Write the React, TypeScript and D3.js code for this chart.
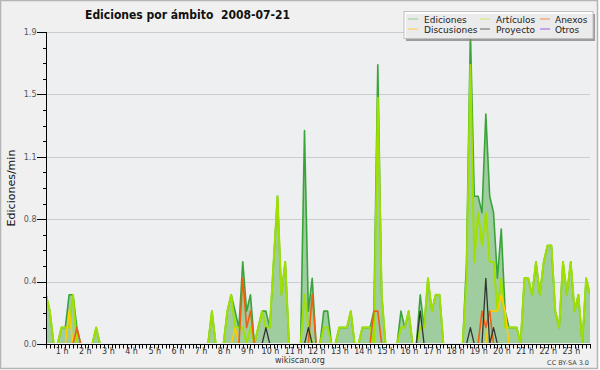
import React from 'react';
import * as d3 from 'd3';

// 10-minute bins, 142 points (00:00 → 23:30), values in edits/min
const ediciones = [
  0.3, 0.2, 0, 0, 0.1, 0.1,
  0.3, 0.3, 0.1, 0, 0, 0,
  0, 0.1, 0, 0, 0, 0,
  0, 0, 0, 0, 0, 0,
  0, 0, 0, 0, 0, 0,
  0, 0, 0, 0, 0, 0,
  0, 0, 0, 0, 0, 0,
  0, 0.2, 0, 0, 0, 0.2,
  0.3, 0.2, 0.1, 0.5, 0.2, 0.3,
  0, 0.1, 0.2, 0.2, 0.1, 0.5,
  0.9, 0.3, 0.5, 0, 0, 0,
  0, 1.3, 0.2, 0.4, 0, 0,
  0.2, 0.2, 0, 0, 0.1, 0.1,
  0.1, 0.2, 0, 0, 0.1, 0.1,
  0.1, 0.2, 1.7, 0.3, 0, 0,
  0, 0, 0.2, 0.1, 0.2, 0,
  0, 0.3, 0.1, 0.4, 0.2, 0.3,
  0.3, 0, 0, 0, 0, 0,
  0, 0.5, 1.9, 0.9, 0.9, 0.8,
  1.4, 0.9, 0.8, 0.4, 0.7, 0.2,
  0.1, 0.1, 0.1, 0, 0.4, 0.4,
  0.3, 0.5, 0.3, 0.5, 0.6, 0.6,
  0.2, 0.1, 0.5, 0.3, 0.5, 0.2,
  0.3, 0, 0.4, 0.3,
];

const articulos = [
  0.3, 0.2, 0, 0, 0.1, 0.1,
  0.1, 0.3, 0, 0, 0, 0,
  0, 0.1, 0, 0, 0, 0,
  0, 0, 0, 0, 0, 0,
  0, 0, 0, 0, 0, 0,
  0, 0, 0, 0, 0, 0,
  0, 0, 0, 0, 0, 0,
  0, 0.2, 0, 0, 0, 0.2,
  0.3, 0.1, 0.1, 0.1, 0, 0.1,
  0, 0.1, 0.2, 0.1, 0.1, 0.5,
  0.9, 0.3, 0.5, 0, 0, 0,
  0, 0.3, 0.1, 0, 0, 0,
  0.1, 0.1, 0, 0, 0.1, 0.1,
  0.1, 0.2, 0, 0, 0.1, 0.1,
  0.1, 0, 1.5, 0.3, 0, 0,
  0, 0, 0.1, 0.1, 0.2, 0,
  0, 0.1, 0.1, 0.4, 0.2, 0.3,
  0.3, 0, 0, 0, 0, 0,
  0, 0.4, 1.7, 0.5, 0.8, 0.6,
  0.8, 0.5, 0.5, 0.2, 0.4, 0.1,
  0.1, 0.1, 0.1, 0, 0.4, 0.4,
  0.3, 0.5, 0.3, 0.5, 0.6, 0.6,
  0.2, 0.1, 0.5, 0.3, 0.5, 0.2,
  0.3, 0, 0.4, 0.3,
];

const anexos = [
  0, 0, 0, 0, 0, 0,
  0, 0, 0.1, 0, 0, 0,
  0, 0, 0, 0, 0, 0,
  0, 0, 0, 0, 0, 0,
  0, 0, 0, 0, 0, 0,
  0, 0, 0, 0, 0, 0,
  0, 0, 0, 0, 0, 0,
  0, 0, 0, 0, 0, 0,
  0, 0, 0, 0.4, 0.1, 0.2,
  0, 0, 0, 0, 0, 0,
  0, 0, 0, 0, 0, 0,
  0, 0, 0, 0.3, 0, 0,
  0, 0, 0, 0, 0, 0,
  0, 0, 0, 0, 0, 0,
  0, 0.2, 0.2, 0, 0, 0,
  0, 0, 0, 0, 0, 0,
  0, 0, 0, 0, 0, 0,
  0, 0, 0, 0, 0, 0,
  0, 0, 0, 0, 0, 0.2,
  0.1, 0.2, 0, 0, 0, 0,
  0, 0, 0, 0, 0, 0,
  0, 0, 0, 0, 0, 0,
  0, 0, 0, 0, 0, 0,
  0, 0, 0, 0,
];

const discusiones = [
  0, 0, 0, 0, 0, 0,
  0.2, 0, 0, 0, 0, 0,
  0, 0, 0, 0, 0, 0,
  0, 0, 0, 0, 0, 0,
  0, 0, 0, 0, 0, 0,
  0, 0, 0, 0, 0, 0,
  0, 0, 0, 0, 0, 0,
  0, 0, 0, 0, 0, 0,
  0, 0.1, 0, 0, 0, 0,
  0, 0, 0, 0, 0, 0,
  0, 0, 0, 0, 0, 0,
  0, 0, 0, 0, 0, 0,
  0, 0, 0, 0, 0, 0,
  0, 0, 0, 0, 0, 0,
  0, 0, 0, 0, 0, 0,
  0, 0, 0, 0, 0, 0,
  0, 0, 0, 0, 0, 0,
  0, 0, 0, 0, 0, 0,
  0, 0, 0, 0, 0, 0,
  0, 0.2, 0.2, 0.2, 0.3, 0.2,
  0, 0, 0, 0, 0, 0,
  0, 0, 0, 0, 0, 0,
  0, 0, 0, 0, 0, 0,
  0, 0, 0, 0,
];

const proyecto = [
  0, 0, 0, 0, 0, 0,
  0, 0, 0, 0, 0, 0,
  0, 0, 0, 0, 0, 0,
  0, 0, 0, 0, 0, 0,
  0, 0, 0, 0, 0, 0,
  0, 0, 0, 0, 0, 0,
  0, 0, 0, 0, 0, 0,
  0, 0, 0, 0, 0, 0,
  0, 0, 0, 0, 0, 0,
  0, 0, 0, 0.1, 0, 0,
  0, 0, 0, 0, 0, 0,
  0, 0, 0.1, 0, 0, 0,
  0, 0, 0, 0, 0, 0,
  0, 0, 0, 0, 0, 0,
  0, 0, 0, 0, 0, 0,
  0, 0, 0, 0, 0, 0,
  0, 0.2, 0, 0, 0, 0,
  0, 0, 0, 0, 0, 0,
  0, 0, 0.1, 0, 0, 0,
  0.4, 0, 0.1, 0, 0, 0,
  0, 0, 0, 0, 0, 0,
  0, 0, 0, 0, 0, 0,
  0, 0, 0, 0, 0, 0,
  0, 0, 0, 0,
];

const otros = [
  0, 0, 0, 0, 0, 0, 0, 0, 0, 0, 0, 0, 0, 0, 0, 0, 0, 0, 0, 0, 0, 0, 0, 0,
  0, 0, 0, 0, 0, 0, 0, 0, 0, 0, 0, 0, 0, 0, 0, 0, 0, 0, 0, 0, 0, 0, 0, 0,
  0, 0, 0, 0, 0, 0, 0, 0, 0, 0, 0, 0, 0, 0, 0, 0, 0, 0, 0, 0, 0, 0, 0, 0,
  0, 0, 0, 0, 0, 0, 0, 0, 0, 0, 0, 0, 0, 0, 0, 0, 0, 0, 0, 0, 0, 0, 0, 0,
  0, 0, 0, 0, 0, 0, 0, 0, 0, 0, 0, 0, 0, 0, 0, 0, 0, 0, 0, 0, 0, 0, 0, 0,
  0, 0, 0, 0, 0, 0, 0, 0, 0, 0, 0, 0, 0, 0, 0, 0, 0, 0, 0, 0, 0, 0,
];

const hourLabels = [
  '1 h', '2 h', '3 h', '4 h', '5 h', '6 h', '7 h', '8 h', '9 h', '10 h', '11 h', '12 h',
  '13 h', '14 h', '15 h', '16 h', '17 h', '18 h', '19 h', '20 h', '21 h', '22 h', '23 h',
];
const yTickValues = [0, 0.38, 0.76, 1.14, 1.52, 1.9];
const yTickLabels = ['0.0', '0.4', '0.8', '1.1', '1.5', '1.9'];

const legendLabels = ['Ediciones', 'Artículos', 'Anexos', 'Discusiones', 'Proyecto', 'Otros'];
const legendColors = ['#8fcf8f', '#c8ec60', '#ee8a5a', '#ffcc44', '#666666', '#9a5ce8'];

const titleText = 'Ediciones por ámbito';
const dateText = '2008-07-21';

const X0 = 46, X1 = 590, Y0 = 344, Y1 = 32;
const BINS_PER_HOUR = 6;

export default function App() {
  const n = ediciones.length;
  const x = d3.scaleLinear().domain([0, n - 1]).range([X0, X1]);
  const y = d3.scaleLinear().domain([0, 1.9]).range([Y0, Y1]);

  const area = d3.area<number>().x((_, i) => x(i)).y0(y(0)).y1((d) => y(d));
  const line = d3.line<number>().x((_, i) => x(i)).y((d) => y(d));

  const minorY = d3.range(0, 21).map((k) => k * 0.095);
  const font = 'DejaVu Sans, Verdana, sans-serif';

  const lines = [
    { data: articulos, color: '#9fe000', w: 2 },
    { data: discusiones, color: '#ffcc00', w: 1.6 },
    { data: anexos, color: '#f06010', w: 1.6 },
    { data: proyecto, color: '#333333', w: 1.3 },
    { data: otros, color: '#8a3ee0', w: 1.3 },
  ];

  const legX = [408, 480, 540];
  const legTextX = [424, 496, 555];
  const legY = [19.5, 29.5];

  return (
    <svg width={600} height={370} style={{ position: 'absolute', left: 0, top: 0 }} fontFamily={font}>
      <defs>
        <clipPath id="plotclip">
          <rect x={X0} y={Y1} width={X1 - X0} height={Y0 - Y1 - 1} />
        </clipPath>
      </defs>
      <rect x={0.5} y={0.5} width={597} height={368} fill="#f0f0f0" stroke="#b4b4b4" strokeWidth={1.5} />
      <rect x={X0} y={Y1} width={X1 - X0} height={Y0 - Y1} fill="#eeeff1" />
      {yTickValues.slice(1).map((v) => (
        <line key={'g' + v} x1={X0} x2={X1} y1={Math.round(y(v)) + 0.5} y2={Math.round(y(v)) + 0.5} stroke="#cccccc" strokeWidth={1} />
      ))}
      <g clipPath="url(#plotclip)">
        <path d={area(ediciones) || ''} fill="#a0cda0" />
        <path d={line(ediciones) || ''} fill="none" stroke="#3aa43a" strokeWidth={1.6} strokeLinejoin="round" />
        {lines.map((l, k) => (
          <path key={k} d={line(l.data) || ''} fill="none" stroke={l.color} strokeWidth={l.w} strokeLinejoin="round" />
        ))}
      </g>
      {/* axes */}
      <line x1={X0 + 0.5} x2={X0 + 0.5} y1={Y1} y2={Y0} stroke="#000" strokeWidth={1} />
      <line x1={X0} x2={X1} y1={Y0 + 0.5} y2={Y0 + 0.5} stroke="#000" strokeWidth={1} />
      {minorY.map((v, k) => (
        <line key={'my' + k} x1={X0 - (k % 4 === 0 ? 9 : 3)} x2={X0} y1={Math.round(y(v)) + 0.5} y2={Math.round(y(v)) + 0.5} stroke="#000" strokeWidth={1} />
      ))}
      {yTickValues.map((v, k) => (
        <text key={'yl' + k} x={36.5} y={y(v)} dy="0.35em" textAnchor="end" fontSize={8} fill="#555">
          {yTickLabels[k]}
        </text>
      ))}
      {d3.range(0, n).map((i) => (
        <line key={'xt' + i} x1={Math.round(x(i)) + 0.5} x2={Math.round(x(i)) + 0.5} y1={Y0} y2={Y0 + 4.5} stroke="#000" strokeWidth={1} />
      ))}
      {hourLabels.map((lab, k) => (
        <text key={'xl' + k} x={x((k + 1) * BINS_PER_HOUR) - 7} y={354} textAnchor="middle" fontSize={8} fill="#333">
          {lab}
        </text>
      ))}
      <text x={11} y={188} transform="rotate(-90 11 188)" dy="0.35em" textAnchor="middle" fontSize={11} fill="#111">
        Ediciones/min
      </text>
      {/* title */}
      <text x={85} y={18.5} fontSize={12} fontWeight="bold" fill="#111" textLength={205} lengthAdjust="spacingAndGlyphs" style={{ whiteSpace: 'pre' }}>
        {titleText + '\u00a0\u00a0' + dateText}
      </text>
      {/* legend */}
      <rect x={406} y={14} width={189} height={27} fill="#808080" opacity={0.75} />
      <rect x={404} y={11.5} width={189} height={27} fill="#ffffff" fillOpacity={0.8} stroke="#c0c0c0" strokeWidth={1} />
      {legendLabels.map((lab, k) => {
        const col = k % 3;
        const row = Math.floor(k / 3);
        return (
          <g key={'lg' + k}>
            <line x1={legX[col]} x2={legX[col] + 10} y1={legY[row] - 0.5} y2={legY[row] - 0.5} stroke={legendColors[k]} strokeWidth={1} />
            <text x={legTextX[col]} y={legY[row]} dy="0.35em" fontSize={9} fill="#222">{lab}</text>
          </g>
        );
      })}
      <text x={300} y={363} textAnchor="middle" fontSize={8} fill="#333">wikiscan.org</text>
      <text x={589} y={365} textAnchor="end" fontSize={6.5} fill="#444">CC BY-SA 3.0</text>
    </svg>
  );
}
